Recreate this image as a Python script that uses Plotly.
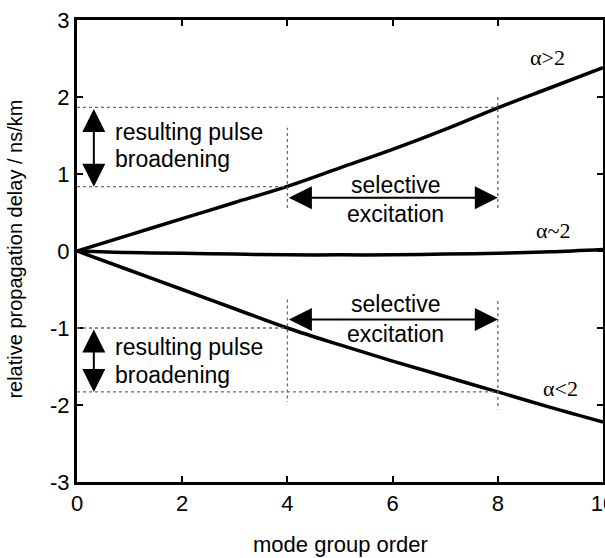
import plotly.graph_objects as go

# ---- data ----
mode_order = [0, 1, 2, 3, 4, 5, 6, 7, 8, 9, 10]
delay_alpha_gt2 = [0, 0.21, 0.42, 0.63, 0.84, 1.08, 1.32, 1.58, 1.86, 2.12, 2.38]
delay_alpha_eq2 = [0, -0.02, -0.03, -0.04, -0.05, -0.05, -0.05, -0.04, -0.03, -0.01, 0.02]
delay_alpha_lt2 = [0, -0.25, -0.5, -0.75, -1.0, -1.22, -1.43, -1.63, -1.83, -2.03, -2.22]
x_ticks = [0, 2, 4, 6, 8, 10]
y_ticks = [-3, -2, -1, 0, 1, 2, 3]

# guide (dotted) lines: selective excitation window and resulting spread
window = [4, 8]
upper_spread = [0.835, 1.865]
lower_spread = [-1.0, -1.83]

FONT = "Liberation Sans, Arial, sans-serif"
SERIF = "Liberation Serif, Times New Roman, serif"

fig = go.Figure()
for ys in (delay_alpha_gt2, delay_alpha_eq2, delay_alpha_lt2):
    fig.add_trace(go.Scatter(x=mode_order, y=ys, mode="lines",
                             line=dict(color="black", width=3.5, shape="spline"),
                             showlegend=False, hoverinfo="skip"))

dot = dict(color="#6a6a6a", width=1.3, dash="dot")
shapes = [
    dict(type="line", x0=0, x1=window[1], y0=upper_spread[1], y1=upper_spread[1], line=dot),
    dict(type="line", x0=0, x1=window[0], y0=upper_spread[0], y1=upper_spread[0], line=dot),
    dict(type="line", x0=window[0], x1=window[0], y0=0.56, y1=1.6, line=dot),
    dict(type="line", x0=window[1], x1=window[1], y0=0.56, y1=2.02, line=dot),
    dict(type="line", x0=0, x1=window[0], y0=lower_spread[0], y1=lower_spread[0], line=dot),
    dict(type="line", x0=0, x1=window[1], y0=lower_spread[1], y1=lower_spread[1], line=dot),
    dict(type="line", x0=window[0], x1=window[0], y0=-0.63, y1=-1.96, line=dot),
    dict(type="line", x0=window[1], x1=window[1], y0=-0.65, y1=-2.06, line=dot),
]

def arrow(x0, y0, x1, y1):
    return dict(x=x1, y=y1, ax=x0, ay=y0, xref="x", yref="y", axref="x", ayref="y",
                text="", showarrow=True, arrowhead=2, arrowside="end+start",
                arrowsize=2.3, arrowwidth=2, arrowcolor="black")

def label(x, y, text, xanchor="left", font=FONT, size=23):
    return dict(x=x, y=y, xref="x", yref="y", text=text, showarrow=False,
                xanchor=xanchor, yanchor="middle", font=dict(family=font, size=size, color="black"))

annotations = [
    arrow(0.32, upper_spread[1], 0.32, upper_spread[0]),
    arrow(0.32, lower_spread[0], 0.32, lower_spread[1]),
    arrow(window[0], 0.69, window[1], 0.69),
    arrow(window[0], -0.89, window[1], -0.89),
    label(0.68, 1.55, "resulting pulse"),
    label(0.68, 1.2, "broadening"),
    label(0.68, -1.25, "resulting pulse"),
    label(0.68, -1.61, "broadening"),
    label(6.05, 0.86, "selective", "center"),
    label(6.05, 0.48, "excitation", "center"),
    label(6.05, -0.69, "selective", "center"),
    label(6.05, -1.08, "excitation", "center"),
    label(8.95, 2.51, "α>2", "center", SERIF, 22),
    label(9.05, 0.27, "α~2", "center", SERIF, 22),
    label(9.2, -1.78, "α<2", "center", SERIF, 22),
    dict(x=-0.118, y=0.505, xref="paper", yref="paper", text="relative propagation delay / ns/km",
         textangle=-90, showarrow=False, xanchor="center", yanchor="middle",
         font=dict(family=FONT, size=20, color="black")),
    dict(x=0.5, y=-0.136, xref="paper", yref="paper", text="mode group order",
         showarrow=False, xanchor="center", yanchor="middle",
         font=dict(family=FONT, size=22, color="black")),
]

axis_common = dict(showline=True, linewidth=3, linecolor="black", mirror="allticks",
                   ticks="inside", ticklen=6, tickwidth=2, tickcolor="black",
                   showgrid=False, zeroline=False, automargin=False,
                   ticklabeloverflow="allow",
                   tickfont=dict(family=FONT, size=22, color="black"))

fig.update_layout(
    width=605, height=558,
    margin=dict(l=77, r=2, t=20, b=76),
    paper_bgcolor="white", plot_bgcolor="white",
    xaxis=dict(range=[0, 10], tickvals=x_ticks, ticktext=[str(v) for v in x_ticks], **axis_common),
    yaxis=dict(range=[-3, 3], tickvals=y_ticks, ticktext=[str(v) for v in y_ticks], **axis_common),
    shapes=shapes, annotations=annotations,
)

fig.write_html("out.html", config={"displayModeBar": False},
               post_script="document.body.style.margin='0';")
